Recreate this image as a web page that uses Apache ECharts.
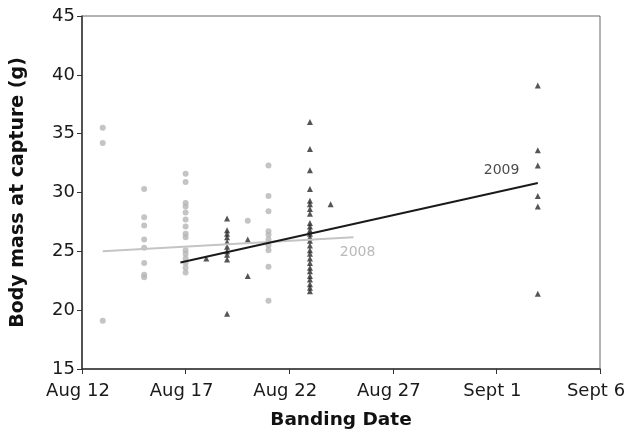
<!DOCTYPE html>
<html>
<head>
<meta charset="utf-8">
<script src="https://cdn.jsdelivr.net/npm/echarts@6/dist/echarts.min.js"></script>
<style>
html,body{margin:0;padding:0;background:#fff;}
#chart{width:633px;height:435px;}
</style>
</head>
<body>
<div id="chart"></div>
<script>
// x values are days after Aug 12
const xTickLabels = ['Aug 12', 'Aug 17', 'Aug 22', 'Aug 27', 'Sept 1', 'Sept 6'];

const days2008 = [1, 3, 5, 8, 9];
const mass2008 = [
  [35.5, 34.2, 19.1],
  [30.3, 27.9, 27.2, 26.0, 25.3, 24.0, 23.0, 22.8],
  [31.6, 30.9, 29.1, 28.8, 28.3, 27.7, 27.1, 26.5, 26.2, 25.1, 24.8, 24.4, 24.0, 23.6, 23.2],
  [27.6],
  [32.3, 29.7, 28.4, 26.7, 26.4, 26.0, 25.5, 25.1, 23.7, 20.8]
];

const days2009 = [6, 7, 8, 11, 12, 22];
const mass2009 = [
  [24.4],
  [27.8, 26.8, 26.5, 26.2, 25.8, 25.4, 25.0, 24.7, 24.3, 19.7],
  [26.0, 22.9],
  [36.0, 33.7, 31.9, 30.3, 29.3, 29.0, 28.6, 28.2, 27.4, 27.1, 26.8, 26.5, 26.2, 25.9, 25.5, 25.1, 24.8, 24.4, 24.0, 23.6, 23.3, 22.9, 22.6, 22.2, 21.9, 21.6],
  [29.0],
  [39.1, 33.6, 32.3, 29.7, 28.8, 21.4]
];

const trend2008X = [1, 13.1];
const trend2008Y = [25.0, 26.2];
const trend2009X = [4.75, 22];
const trend2009Y = [24.05, 30.8];

const labelNames = ['2008', '2009'];
const labelX = [13.3, 20.25];
const labelY = [24.9, 31.9];
const labelColors = ['#a8a8a8', '#1a1a1a'];

function pts(days, masses) {
  const out = [];
  days.forEach((d, i) => masses[i].forEach(m => out.push([d, m])));
  return out;
}
function line(xs, ys) { return xs.map((x, i) => [x, ys[i]]); }

const chart = echarts.init(document.getElementById('chart'), null, {renderer: 'canvas'});
const font = 'DejaVu Sans';
chart.setOption({
  animation: false,
  backgroundColor: '#fff',
  grid: {left: 82, right: 33, top: 16, bottom: 66, show: true, borderColor: '#666', borderWidth: 1},
  xAxis: {
    type: 'value', min: 0, max: 25, interval: 5,
    name: 'Banding Date', nameLocation: 'middle', nameGap: 42,
    nameTextStyle: {fontFamily: font, fontWeight: 'bold', fontSize: 18.5, color: '#111'},
    axisLine: {lineStyle: {color: '#333', width: 1.5}},
    axisTick: {show: true, inside: false, length: 5, lineStyle: {color: '#333'}},
    axisLabel: {fontFamily: font, fontSize: 18, color: '#1a1a1a', margin: 13,
      padding: [0, 8, 0, 0],
      formatter: v => xTickLabels[Math.round(v / 5)]},
    splitLine: {show: false}
  },
  yAxis: {
    type: 'value', min: 15, max: 45, interval: 5,
    name: 'Body mass at capture (g)', nameLocation: 'middle', nameGap: 54,
    nameTextStyle: {fontFamily: font, fontWeight: 'bold', fontSize: 19, color: '#111'},
    axisLine: {show: true, lineStyle: {color: '#333', width: 1.5}},
    axisTick: {show: true, inside: false, length: 5, lineStyle: {color: '#333'}},
    axisLabel: {fontFamily: font, fontSize: 18, color: '#1a1a1a', margin: 7},
    splitLine: {show: false}
  },
  series: [
    {type: 'scatter', name: '2008', data: pts(days2008, mass2008), symbol: 'circle', symbolSize: 6,
      itemStyle: {color: '#b5b5b5'}, z: 2},
    {type: 'scatter', name: '2009', data: pts(days2009, mass2009), symbol: 'triangle', symbolSize: 6,
      itemStyle: {color: '#2a2a2a'}, z: 3},
    {type: 'line', data: line(trend2008X, trend2008Y), symbol: 'none',
      lineStyle: {color: '#c4c4c4', width: 2}, z: 4},
    {type: 'line', data: line(trend2009X, trend2009Y), symbol: 'none',
      lineStyle: {color: '#1a1a1a', width: 2}, z: 5},
    {type: 'scatter', symbolSize: 0, z: 6,
      data: labelNames.map((n, i) => ({
        value: [labelX[i], labelY[i]], name: n,
        label: {color: labelColors[i]}
      })),
      label: {show: true, position: 'inside', formatter: p => p.name, fontFamily: font, fontSize: 14},
      itemStyle: {color: 'transparent'}
    }
  ]
});
</script>
</body>
</html>
